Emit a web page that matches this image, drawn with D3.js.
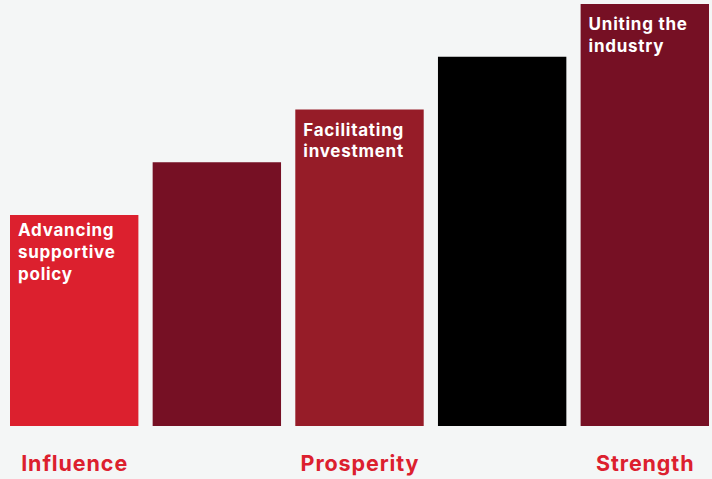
<!DOCTYPE html>
<html>
<head>
<meta charset="utf-8">
<script src="https://cdn.jsdelivr.net/npm/d3@7"></script>
<style>
  html, body { margin: 0; padding: 0; background: #f4f6f6; }
  svg { display: block; }
</style>
</head>
<body>
<svg id="chart" width="712" height="479"></svg>
<script>
// Five rising steps, each a bar
const steps = ["s1", "s2", "s3", "s4", "s5"];
const values = [4, 5, 6, 7, 8];
const barColors = ["#dc202e", "#761024", "#961c28", "#000000", "#761024"];

// Text printed inside some of the bars (one entry per line)
const barLabels = [
  ["Advancing", "supportive", "policy"],
  [],
  ["Facilitating", "investment"],
  [],
  ["Uniting the", "industry"]
];

// Words under the bars
const baseLabels = ["Influence", "", "Prosperity", "", "Strength"];

const W = 712, H = 479;
const margin = { left: 10, right: 3, top: 4, baseline: 426 };

const svg = d3.select("#chart");

const x = d3.scaleBand()
  .domain(steps)
  .range([margin.left, W - margin.right])
  .paddingInner(0.1)
  .paddingOuter(0);

const y = d3.scaleLinear()
  .domain([0, d3.max(values)])
  .range([margin.baseline, margin.top]);

const font = "Inter, Roboto, 'Open Sans', sans-serif";

svg.append("g")
  .selectAll("rect")
  .data(values)
  .join("rect")
  .attr("x", (d, i) => x(steps[i]))
  .attr("y", d => y(d))
  .attr("width", x.bandwidth())
  .attr("height", d => y(0) - y(d))
  .attr("fill", (d, i) => barColors[i]);

// Labels inside bars
const firstLineOffset = [21, 26, 26, 26, 26];
const inner = svg.append("g")
  .attr("font-family", font)
  .attr("font-weight", 700)
  .attr("font-size", 17)
  .attr("letter-spacing", 0.75)
  .attr("fill", "#ffffff");

barLabels.forEach((lines, i) => {
  lines.forEach((line, j) => {
    inner.append("text")
      .attr("x", x(steps[i]) + 8)
      .attr("y", y(values[i]) + firstLineOffset[i] + j * 21.8)
      .text(line);
  });
});

// Labels below bars, centred on their bars
const baseSpacing = 0.9;
svg.append("g")
  .attr("font-family", font)
  .attr("font-weight", 700)
  .attr("font-size", 21.5)
  .attr("letter-spacing", baseSpacing)
  .attr("fill", "#dc202e")
  .attr("text-anchor", "middle")
  .selectAll("text")
  .data(baseLabels)
  .join("text")
  .attr("x", (d, i) => x(steps[i]) + x.bandwidth() / 2 + baseSpacing / 2)
  .attr("y", 471)
  .text(d => d);
</script>
</body>
</html>
